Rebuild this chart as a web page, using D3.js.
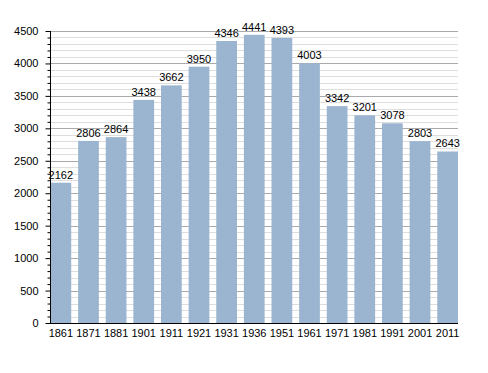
<!DOCTYPE html>
<html>
<head>
<meta charset="utf-8">
<script src="https://cdn.jsdelivr.net/npm/d3@7"></script>
<style>
  body { margin: 0; background: #fff; }
  text { font-family: "Liberation Sans", Arial, sans-serif; font-size: 11px; fill: #000; }
</style>
</head>
<body>
<svg id="chart"></svg>
<script>
var years = ["1861", "1871", "1881", "1901", "1911", "1921", "1931", "1936", "1951", "1961", "1971", "1981", "1991", "2001", "2011"];
var population = [2162, 2806, 2864, 3438, 3662, 3950, 4346, 4441, 4393, 4003, 3342, 3201, 3078, 2803, 2643];
var majorTicks = [0, 500, 1000, 1500, 2000, 2500, 3000, 3500, 4000, 4500];

var width = 488, height = 373;
var plotLeft = 50, plotRight = 458, plotTop = 31, plotBottom = 323;

var svg = d3.select("svg#chart")
            .attr("width", width)
            .attr("height", height);

var x = d3.scaleBand()
          .domain(years)
          .range([plotLeft + 0.5, plotRight])
          .paddingInner(0.25)
          .paddingOuter(0);

var y = d3.scaleLinear()
          .domain([0, 4500])
          .range([plotBottom, plotTop]);

// minor grid every 100
var minor = d3.range(0, 4501, 100).filter(function(v) { return v % 500 != 0; });
svg.append("g").selectAll("line")
   .data(minor)
   .enter().append("line")
   .attr("x1", plotLeft).attr("x2", plotRight)
   .attr("y1", function(d) { return Math.round(y(d)) + 0.5; })
   .attr("y2", function(d) { return Math.round(y(d)) + 0.5; })
   .attr("stroke", "#dedede")
   .attr("stroke-width", 1);

// major grid
svg.append("g").selectAll("line")
   .data(majorTicks.slice(1))
   .enter().append("line")
   .attr("x1", plotLeft).attr("x2", plotRight)
   .attr("y1", function(d) { return Math.round(y(d)) + 0.5; })
   .attr("y2", function(d) { return Math.round(y(d)) + 0.5; })
   .attr("stroke", "#aaaaaa")
   .attr("stroke-width", 1);

// bars
svg.append("g").selectAll("rect")
   .data(population)
   .enter().append("rect")
   .attr("x", function(d, i) { return x(years[i]); })
   .attr("width", x.bandwidth())
   .attr("y", function(d) { return y(d); })
   .attr("height", function(d) { return plotBottom - y(d); })
   .attr("fill", "#9bb4cf");

// value labels
svg.append("g").selectAll("text")
   .data(population)
   .enter().append("text")
   .attr("x", function(d, i) { return x(years[i]) + x.bandwidth() / 2; })
   .attr("y", function(d) { return y(d) - 4; })
   .attr("text-anchor", "middle")
   .text(function(d) { return d; });

// y axis with minor ticks
var yMinor = d3.axisLeft(y)
               .tickValues(minor)
               .tickSize(3)
               .tickFormat("");
svg.append("g")
   .attr("transform", "translate(" + (plotLeft + 0.5) + ",0)")
   .call(yMinor)
   .call(function(g) { g.select(".domain").remove(); });

var yAxis = d3.axisLeft(y)
              .tickValues(majorTicks)
              .tickSize(5)
              .tickPadding(7)
              .tickFormat(d3.format("d"));
svg.append("g")
   .attr("transform", "translate(" + (plotLeft + 0.5) + ",0)")
   .call(yAxis)
   .call(function(g) {
     g.select(".domain").attr("d", "M0," + plotTop + "V" + (plotBottom + 0.5));
     g.selectAll("text").style("font-size", "11px").style("font-family", "Liberation Sans, Arial, sans-serif");
   });

// x axis
var xAxis = d3.axisBottom(x).tickSize(0).tickPadding(6);
svg.append("g")
   .attr("transform", "translate(0," + (plotBottom + 0.5) + ")")
   .call(xAxis)
   .call(function(g) {
     g.select(".domain").attr("d", "M" + plotLeft + ",0H" + plotRight);
     g.selectAll("text").style("font-size", "11px").style("font-family", "Liberation Sans, Arial, sans-serif");
   });
</script>
</body>
</html>
